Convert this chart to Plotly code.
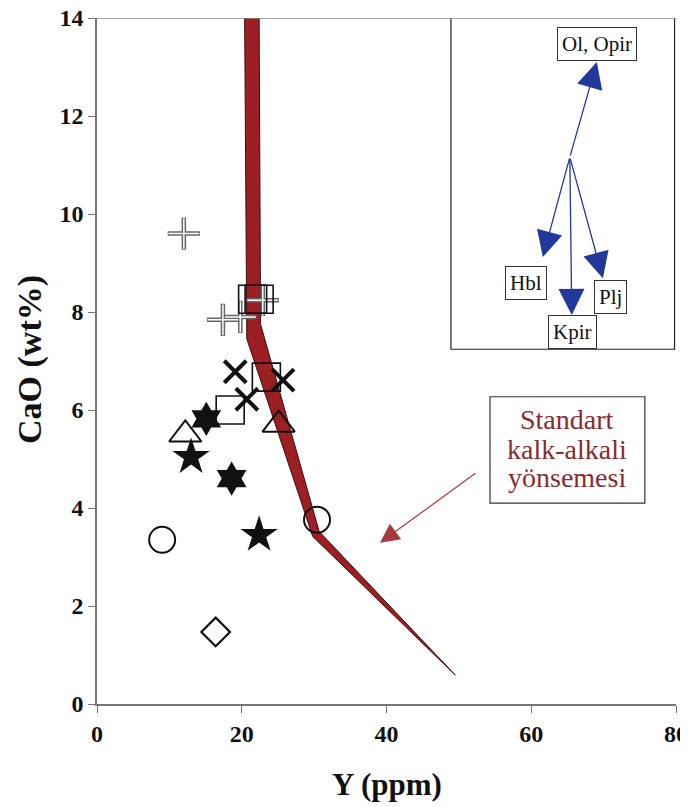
import plotly.graph_objects as go

# ---- data ----
plus_x = [12.0, 17.4, 19.8, 22.9]
plus_y = [9.6, 7.84, 7.9, 8.24]
square_x = [21.5, 22.4, 23.4, 18.4]
square_y = [8.26, 8.26, 6.67, 6.0]
cross_x = [19.1, 20.7, 25.7]
cross_y = [6.78, 6.22, 6.61]
tri_x = [12.2, 25.1]
tri_y = [5.50, 5.70]
hex_x = [15.1, 18.6]
hex_y = [5.82, 4.6]
star_x = [13.0, 22.4]
star_y = [5.04, 3.45]
circ_x = [9.0, 30.4]
circ_y = [3.35, 3.76]
diam_x = [16.4]
diam_y = [1.47]

# calc-alkaline trend band (left/lower edge then right/upper edge reversed)
band_left_x = [20.4, 20.7, 29.8, 49.5]
band_left_y = [14.0, 7.45, 3.42, 0.59]
band_right_x = [22.4, 22.6, 30.7, 49.5]
band_right_y = [14.0, 7.75, 3.52, 0.59]

# inset vectors
vec_origin = (65.33, 11.16)
vec_names = ["Ol, Opir", "Hbl", "Kpir", "Plj"]
vec_tip_x = [69.06, 61.6, 65.6, 69.9]
vec_tip_y = [13.10, 9.12, 7.94, 8.69]
vec_lab_x = [69.06, 59.25, 65.75, 71.0]
vec_lab_y = [13.47, 8.59, 7.59, 8.31]

trend_lines = ["Standart", "kalk-alkali", "yönsemesi"]
trend_line_y = [5.80, 5.20, 4.63]

SERIF = "Liberation Serif"
RED = "#9c1f24"
BLUE = "#22389a"

fig = go.Figure()

fig.add_trace(go.Scatter(
    x=band_left_x + band_right_x[::-1],
    y=band_left_y + band_right_y[::-1],
    mode="lines", fill="toself", fillcolor=RED,
    line=dict(color="#3a0c0c", width=1), hoverinfo="skip", showlegend=False))

def mk(x, y, symbol, size, color, lw, lc):
    fig.add_trace(go.Scatter(x=x, y=y, mode="markers", showlegend=False,
                             marker=dict(symbol=symbol, size=size, color=color,
                                         line=dict(width=lw, color=lc))))

mk(plus_x, plus_y, "cross-thin", 23, "#666", 4.5, "#666")
mk(plus_x, plus_y, "cross-thin", 22, "white", 1.5, "white")
mk(square_x, square_y, "square-open", 28, "#111", 1.6, "#111")
mk(cross_x, cross_y, "x-thin", 22, "#111", 4, "#111")
mk(tri_x, tri_y, "triangle-up-open", 28, "#111", 2, "#111")
mk(hex_x, hex_y, "hexagram", 26, "#111", 0, "#111")
mk(star_x, star_y, "star", 28, "#111", 0, "#111")
mk(circ_x, circ_y, "circle-open", 26, "#111", 2, "#111")
mk(diam_x, diam_y, "diamond-open", 22, "#111", 2.2, "#111")

shapes = []
shapes.append(dict(type="line", xref="x", yref="y", x0=0, x1=80, y0=14, y1=14,
                   line=dict(color="#888", width=1.5)))
shapes.append(dict(type="rect", xref="x", yref="y", x0=48.9, x1=79.8, y0=7.24, y1=14.04,
                   line=dict(color="#222", width=1.2), fillcolor="white", layer="below"))
shapes.append(dict(type="line", xref="x", yref="y", x0=48.9, x1=79.8, y0=14.04, y1=14.04,
                   line=dict(color="#111", width=2.5)))
shapes.append(dict(type="rect", xref="x", yref="y", x0=54.3, x1=75.7, y0=4.10, y1=6.27,
                   line=dict(color="#333", width=1.2), fillcolor="white"))

annotations = []
for nm, tx, ty, lx, ly in zip(vec_names, vec_tip_x, vec_tip_y, vec_lab_x, vec_lab_y):
    annotations.append(dict(x=tx, y=ty, ax=vec_origin[0], ay=vec_origin[1],
                            xref="x", yref="y", axref="x", ayref="y", text="",
                            showarrow=True, arrowhead=2, arrowsize=4, arrowwidth=1.3,
                            arrowcolor=BLUE))
    annotations.append(dict(x=lx, y=ly, xref="x", yref="y", text=nm, showarrow=False,
                            font=dict(family=SERIF, size=21, color="#111"),
                            bordercolor="#333", borderwidth=1, borderpad=4, bgcolor="white"))

for t, ty in zip(trend_lines, trend_line_y):
    annotations.append(dict(x=64.9, y=ty, xref="x", yref="y", showarrow=False, text=t,
                            font=dict(family=SERIF, size=28, color="#8b2a2e")))
annotations.append(dict(x=39.1, y=3.29, ax=52.5, ay=4.73, xref="x", yref="y",
                        axref="x", ayref="y", text="", showarrow=True,
                        arrowhead=2, arrowsize=3.2, arrowwidth=1.2, arrowcolor="#a83a3e"))

# axis titles
annotations.append(dict(xref="paper", yref="paper", x=-0.1157, y=0.5015, showarrow=False,
                        xanchor="center", yanchor="middle",
                        textangle=-90, text="<b>CaO (wt%)</b>",
                        font=dict(family=SERIF, size=34, color="#111")))
annotations.append(dict(xref="paper", yref="paper", x=0.5009, y=-0.118, showarrow=False,
                        xanchor="center", yanchor="middle",
                        text="<b>Y (ppm)</b>",
                        font=dict(family=SERIF, size=31, color="#111")))

# the page body has an 8px margin, so the figure is 8px smaller and margins shifted
fig.update_layout(
    width=680, height=799,
    margin=dict(l=89, r=12, t=10, b=103),
    plot_bgcolor="white", paper_bgcolor="white",
    shapes=shapes, annotations=annotations,
    xaxis=dict(range=[0, 80], tickvals=[0, 20, 40, 60, 80], showgrid=False, zeroline=False,
               showline=True, linecolor="#777", linewidth=1.5, ticks="outside",
               ticklen=7, tickcolor="#777", automargin=False, ticklabeloverflow="allow",
               tickfont=dict(family=SERIF, size=24, color="#111", weight="bold")),
    yaxis=dict(range=[0, 14], tickvals=[0, 2, 4, 6, 8, 10, 12, 14], showgrid=False,
               zeroline=False, showline=True, linecolor="#777", linewidth=1.5,
               ticks="outside", ticklen=7, tickcolor="#777", automargin=False,
               ticklabeloverflow="allow",
               tickfont=dict(family=SERIF, size=24, color="#111", weight="bold")),
)

fig.write_html("out.html")
